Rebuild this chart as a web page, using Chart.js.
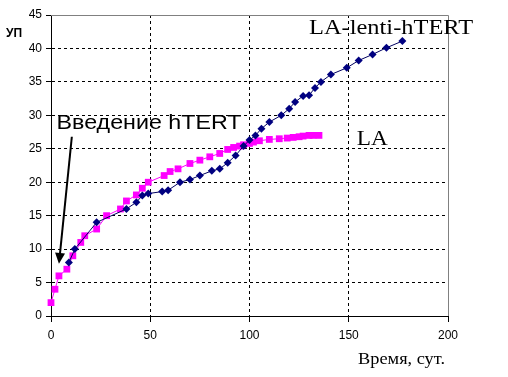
<!DOCTYPE html>
<html>
<head>
<meta charset="utf-8">
<script src="https://cdn.jsdelivr.net/npm/chart.js@4"></script>
<style>
  body { margin: 0; background: #fff; }
</style>
</head>
<body>
<canvas id="c" width="508" height="377"></canvas>
<script>
// LA (magenta squares)
const laDays = [0, 2, 4, 8, 11, 15, 17, 23, 28, 35, 38, 43, 46, 49, 57, 60, 64, 70, 75, 80, 85, 89, 92, 95, 97, 100, 102, 105, 110, 115, 119, 122, 125, 127, 130, 132, 135];
const laValues = [2, 4, 6, 7, 9, 11, 12, 13, 15, 16, 17.2, 18.1, 19.1, 20, 21, 21.6, 22, 22.8, 23.3, 23.8, 24.3, 24.9, 25.2, 25.4, 25.6, 25.8, 26, 26.2, 26.4, 26.5, 26.6, 26.7, 26.8, 26.9, 27, 27, 27];

// LA-lenti-hTERT (navy diamonds)
const lentiDays = [9, 12, 23, 38, 43, 46, 49, 56, 59, 65, 70, 75, 81, 85, 89, 93, 97, 100, 103, 106, 110, 116, 120, 123, 127, 130, 133, 136, 141, 149, 155, 162, 169, 177];
const lentiValues = [8, 10, 14, 16, 17, 18, 18.3, 18.6, 18.8, 20, 20.4, 21, 21.7, 22, 22.9, 24, 25.4, 26.3, 27, 28, 29, 30, 31, 32, 32.9, 33, 34.1, 35, 36.1, 37.1, 38.2, 39.1, 40.1, 41.1];

const xTicks = [0, 50, 100, 150, 200];
const yTicks = [0, 5, 10, 15, 20, 25, 30, 35, 40, 45];

const toPoints = (xs, ys) => xs.map((x, i) => ({ x: x, y: ys[i] }));

const sans = 'Arial, "Liberation Sans", sans-serif';
const serif = '"Times New Roman", "Liberation Serif", serif';

// draw text squeezed/stretched to a given width (the original picture is slightly stretched)
function fitText(ctx, text, x, y, width) {
  const w = ctx.measureText(text).width;
  ctx.save();
  ctx.translate(x, y);
  ctx.scale(width / w, 1);
  ctx.fillText(text, 0, 0);
  ctx.restore();
}

const decorations = {
  id: 'decorations',
  afterDraw(chart) {
    const { ctx, chartArea: a, scales: { x, y } } = chart;
    ctx.save();

    // grey frame on top and right
    ctx.strokeStyle = '#808080';
    ctx.lineWidth = 1;
    ctx.beginPath();
    ctx.moveTo(a.left, a.top + 0.5);
    ctx.lineTo(a.right + 0.5, a.top + 0.5);
    ctx.lineTo(a.right + 0.5, a.bottom);
    ctx.stroke();

    ctx.fillStyle = '#000';
    ctx.textBaseline = 'alphabetic';
    ctx.textAlign = 'left';

    // axis titles
    ctx.font = 'bold 12px ' + sans;
    ctx.fillText('УП', 6, 37);
    ctx.font = '17px ' + serif;
    fitText(ctx, 'Время, сут.', 358, 364, 87);

    // series labels
    ctx.font = '22px ' + serif;
    fitText(ctx, 'LA-lenti-hTERT', x.getPixelForValue(130), y.getPixelForValue(42.1), 164);
    fitText(ctx, 'LA', x.getPixelForValue(154), y.getPixelForValue(25.6), 31);

    // annotation text
    ctx.font = '21px ' + sans;
    fitText(ctx, 'Введение hTERT', x.getPixelForValue(2.8), y.getPixelForValue(28), 185);

    // arrow
    const x1 = x.getPixelForValue(10.5), y1 = y.getPixelForValue(26.8);
    const x2 = x.getPixelForValue(4), y2 = y.getPixelForValue(7.8);
    const ang = Math.atan2(y2 - y1, x2 - x1);
    ctx.strokeStyle = '#000';
    ctx.lineWidth = 2;
    ctx.beginPath();
    ctx.moveTo(x1, y1);
    ctx.lineTo(x2 - 6 * Math.cos(ang), y2 - 6 * Math.sin(ang));
    ctx.stroke();
    ctx.beginPath();
    ctx.moveTo(x2, y2);
    ctx.lineTo(x2 - 11 * Math.cos(ang) + 5 * Math.sin(ang), y2 - 11 * Math.sin(ang) - 5 * Math.cos(ang));
    ctx.lineTo(x2 - 11 * Math.cos(ang) - 5 * Math.sin(ang), y2 - 11 * Math.sin(ang) + 5 * Math.cos(ang));
    ctx.closePath();
    ctx.fill();

    ctx.restore();
  }
};

const gridColor = (max) => (c) => (c.tick.value === 0 || c.tick.value === max) ? 'rgba(0,0,0,0)' : '#000';

new Chart(document.getElementById('c'), {
  type: 'scatter',
  data: {
    datasets: [
      {
        label: 'LA-lenti-hTERT',
        data: toPoints(lentiDays, lentiValues),
        showLine: true,
        clip: false,
        borderColor: '#000060',
        borderWidth: 1,
        backgroundColor: '#000080',
        pointStyle: 'rectRot',
        pointRadius: 4,
        pointBorderWidth: 0,
        pointBackgroundColor: '#000080'
      },
      {
        label: 'LA',
        data: toPoints(laDays, laValues),
        showLine: true,
        clip: false,
        borderColor: '#ff00ff',
        borderWidth: 1,
        backgroundColor: '#ff00ff',
        pointStyle: 'rect',
        pointRadius: 4.8,
        pointBorderWidth: 0,
        pointBackgroundColor: '#ff00ff'
      }
    ]
  },
  options: {
    responsive: false,
    animation: false,
    layout: { padding: { left: 0, top: 15, right: 60, bottom: 0 } },
    plugins: {
      legend: { display: false },
      tooltip: { enabled: false }
    },
    scales: {
      x: {
        type: 'linear',
        min: 0,
        max: 200,
        afterBuildTicks: (s) => { s.ticks = xTicks.map((v) => ({ value: v })); },
        afterFit: (s) => { s.height = 61; },
        grid: {
          color: gridColor(200),
          tickColor: '#000',
          tickLength: 6,
          tickBorderDash: [],
          lineWidth: 1
        },
        border: { display: true, color: '#000', width: 1, dash: [3, 3] },
        ticks: {
          color: '#000',
          padding: 6,
          maxRotation: 0,
          font: { family: sans, size: 12 }
        }
      },
      y: {
        min: 0,
        max: 45,
        afterBuildTicks: (s) => { s.ticks = yTicks.map((v) => ({ value: v })); },
        afterFit: (s) => { s.width = 51; },
        grid: {
          color: gridColor(45),
          tickColor: '#000',
          tickLength: 5,
          tickBorderDash: [],
          lineWidth: 1
        },
        border: { display: true, color: '#000', width: 1, dash: [3, 3] },
        ticks: {
          color: '#000',
          padding: 4,
          font: { family: sans, size: 12 }
        }
      }
    }
  },
  plugins: [decorations]
});
</script>
</body>
</html>
